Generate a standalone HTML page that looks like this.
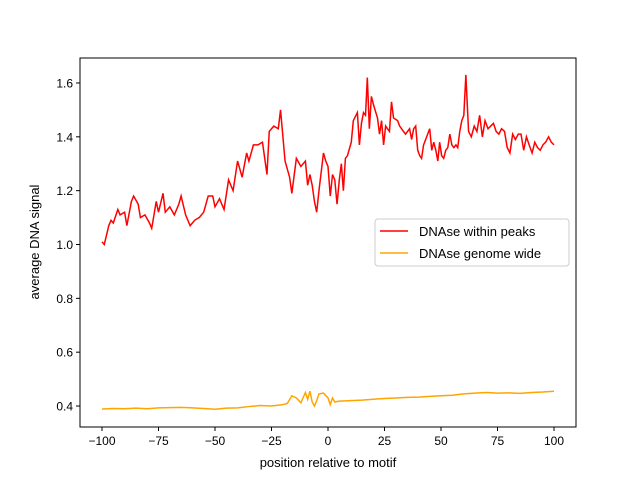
<!DOCTYPE html>
<html><head><meta charset="utf-8"><style>
body{margin:0;background:#fff}
svg{font-family:"Liberation Sans","DejaVu Sans",sans-serif}
</style></head><body>
<svg id="chart" width="640" height="480">
<rect x="0" y="0" width="640" height="480" fill="#fff"/>
<g id="plot"></g>
<rect x="80" y="58" width="496" height="369" fill="none" stroke="#000" stroke-width="1"/>
<g id="axes"></g>
<text x="328" y="467" font-size="13" text-anchor="middle">position relative to motif</text>
<text transform="translate(39,242) rotate(-90)" font-size="13" text-anchor="middle">average DNA signal</text>
<g>
<rect x="375" y="219" width="194" height="47" rx="3" fill="#fff" stroke="#ccc"/>
<g><line x1="380" y1="231" x2="408" y2="231" stroke="red" stroke-width="1.5"/><text x="419" y="236" font-size="13">DNAse within peaks</text></g>
<g><line x1="380" y1="253" x2="408" y2="253" stroke="orange" stroke-width="1.5"/><text x="419" y="258" font-size="13">DNAse genome wide</text></g>
</g>
</svg>
<script>
const peakX=[-100,-99,-97,-96,-95,-93,-92,-90,-89,-87,-86,-84,-83,-81,-79,-78,-76,-75,-73,-72,-70,-68,-66,-65,-63,-61,-59,-57,-55,-53,-51,-50,-48,-46,-44,-42,-40,-38,-36,-35,-33,-31,-29,-27,-26,-24,-22,-21,-19,-17,-16,-14,-12,-10,-9,-8,-7,-6,-5,-4,-2,-1,0,1,2,3,4,5,5.9,6.8,7.7,8.6,10.3,11.2,13,13.9,14.8,15.7,16.6,17.4,18.3,19.2,20.1,21.9,22.8,23.7,24.6,25.5,26.3,27.2,28.1,29,30.8,31.7,33.4,34.3,36.1,37,37.9,38.8,39.7,40.6,41.4,42.3,44.1,45,45.9,46.8,47.7,48.6,49.4,50.3,51.2,52.1,53,53.9,54.8,55.7,56.6,57.4,58.3,59.2,60.1,61,62.2,63.4,64.7,65.9,67.1,68.3,69.5,70.8,72,73.2,74.4,75.6,76.8,78.1,79.3,80.5,81.7,82.9,84.2,85.4,86.6,87.8,89,90.3,91.5,92.7,93.9,95.1,96.3,97.6,98.8,100];
const peakY=[1.01,1.00,1.07,1.09,1.08,1.13,1.11,1.12,1.07,1.16,1.18,1.15,1.10,1.11,1.08,1.06,1.16,1.12,1.19,1.12,1.14,1.11,1.15,1.18,1.11,1.07,1.09,1.10,1.12,1.18,1.18,1.14,1.17,1.13,1.24,1.20,1.31,1.25,1.34,1.31,1.37,1.37,1.38,1.26,1.42,1.44,1.43,1.50,1.31,1.25,1.19,1.32,1.29,1.31,1.22,1.26,1.22,1.16,1.12,1.20,1.34,1.31,1.29,1.18,1.26,1.24,1.15,1.24,1.30,1.20,1.32,1.33,1.38,1.46,1.49,1.37,1.45,1.49,1.48,1.62,1.43,1.55,1.52,1.47,1.41,1.46,1.37,1.44,1.43,1.42,1.53,1.47,1.46,1.44,1.42,1.41,1.43,1.39,1.43,1.44,1.35,1.33,1.32,1.37,1.41,1.43,1.35,1.38,1.35,1.31,1.38,1.33,1.32,1.35,1.36,1.41,1.37,1.36,1.37,1.36,1.42,1.46,1.48,1.63,1.42,1.40,1.44,1.42,1.48,1.40,1.46,1.43,1.44,1.45,1.42,1.41,1.43,1.42,1.36,1.34,1.41,1.39,1.41,1.41,1.35,1.40,1.37,1.34,1.38,1.36,1.35,1.37,1.38,1.40,1.38,1.37];
const gwX=[-100,-95,-90,-85,-80,-75,-70,-65,-60,-55,-50,-45,-40,-35,-30,-25,-20,-18,-16,-14,-12,-10,-9,-8,-7,-6,-5,-4,-2,0,1,2,3,5,10,15,20,25,30,35,40,45,50,55,60,65,70,75,80,85,90,95,100];
const gwY=[0.389,0.391,0.390,0.392,0.390,0.393,0.394,0.395,0.393,0.391,0.388,0.392,0.393,0.398,0.402,0.400,0.405,0.410,0.438,0.430,0.412,0.450,0.425,0.455,0.415,0.400,0.420,0.445,0.448,0.430,0.405,0.430,0.415,0.418,0.420,0.422,0.425,0.428,0.430,0.432,0.433,0.436,0.438,0.440,0.445,0.448,0.450,0.448,0.449,0.447,0.450,0.452,0.455];
const xTicks=[-100,-75,-50,-25,0,25,50,75,100];
const yTicks=[0.4,0.6,0.8,1.0,1.2,1.4,1.6];
const xs=v=>102+(v+100)*2.26;
const ys=v=>244.5-(v-1.0)*269.2;
const NS='http://www.w3.org/2000/svg';
const plot=document.getElementById('plot'),axes=document.getElementById('axes');
function line(xa,ya,color,name){
  const p=document.createElementNS(NS,'polyline');
  p.setAttribute('points',xa.map((x,i)=>xs(x)+','+ys(ya[i])).join(' '));
  p.setAttribute('fill','none');p.setAttribute('stroke',color);p.setAttribute('stroke-width','1.5');
  
  
  plot.appendChild(p);
}
line(gwX,gwY,'orange','genome-wide-line');
line(peakX,peakY,'red','within-peaks-line');
xTicks.forEach(t=>{
  const g=document.createElementNS(NS,'g');
  
  
  const x=xs(t);
  g.innerHTML=`<line x1="${x}" y1="427" x2="${x}" y2="431" stroke="#000"/><text x="${x}" y="445" font-size="12" text-anchor="middle">${t<0?'\u2212'+(-t):t}</text>`;
  axes.appendChild(g);
});
yTicks.forEach(t=>{
  const g=document.createElementNS(NS,'g');
  
  
  const y=ys(t);
  g.innerHTML=`<line x1="76" y1="${y}" x2="80" y2="${y}" stroke="#000"/><text x="73" y="${y+4.5}" font-size="12" text-anchor="end">${t.toFixed(1)}</text>`;
  axes.appendChild(g);
});
</script>
</body></html>
